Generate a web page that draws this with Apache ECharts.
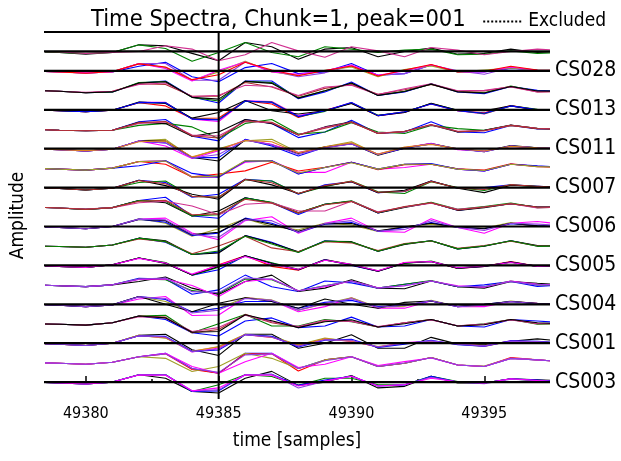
<!DOCTYPE html>
<html><head><meta charset="utf-8">
<script src="https://cdn.jsdelivr.net/npm/echarts@6/dist/echarts.min.js"></script>
<style>html,body{margin:0;padding:0;background:#fff}#c{width:621px;height:461px}</style>
</head><body><div id="c"></div>
<script>
// ---------- DATA ----------
const times = [49378,49379,49380,49381,49382,49383,49384,49385,49386,49387,49388,49389,49390,49391,49392,49393,49394,49395,49396,49397,49398];
const xTickLabels = [49380,49385,49390,49395];
const xMinorTicks = [49382.5,49387.5,49392.5];
const markerTime = 49385;
const stationNames = ['CS003','CS001','CS004','CS005','CS006','CS007','CS011','CS013','CS028'];
const titleText = 'Time Spectra, Chunk=1, peak=001';
const legendName = 'Excluded';

// amplitude traces per row (row 0 = bottom), in units of row spacing
const g00 = [
 [0,-0.05,-0.1,0,0.38,0.2,-0.48,-0.56,0.2,0.55,-0.17,0,0.34,-0.3,-0.22,0.3,-0.05,-0.05,0.17,0.12,0.05],
 [0,-0.05,-0.1,0,0.38,0.38,-0.48,-0.14,0.38,0.29,-0.17,0.2,0.2,-0.14,-0.14,0.3,0.03,-0.05,0.17,0.05,0],
 [0,-0.05,-0.1,0,0.38,0.38,-0.48,-0.45,0.38,0.4,-0.17,0.1,0.3,-0.2,-0.15,0.3,0,-0.05,0.17,0.1,0.03],
 [0,-0.05,-0.1,0,0.38,0.38,-0.45,-0.4,0.38,0.4,-0.3,0.05,0.3,-0.2,-0.12,0.25,0,-0.08,0.15,0.08,0],
 [0,-0.05,-0.1,0,0.36,0.35,-0.45,-0.3,0.36,0.35,-0.2,0.05,0.3,-0.2,-0.14,0.2,0.02,-0.05,0.17,0.08,0]];
const g01 = [
 [0,-0.03,-0.08,0.02,0.3,0.48,-0.3,-0.55,0.48,0.48,-0.3,0.14,0.3,-0.2,-0.03,0.26,-0.12,-0.2,0.22,0.14,0.05],
 [0,-0.03,-0.08,0.02,0.3,0.45,-0.35,-0.55,0.46,0.45,-0.43,0.14,0.3,-0.2,-0.03,0.26,-0.12,-0.2,0.26,0.14,0.05],
 [0,-0.03,-0.08,0.02,0.3,0.22,-0.46,-0.2,0.48,0.22,-0.3,0.14,0.3,-0.18,-0.03,0.26,-0.12,-0.18,0.22,0.14,0.05],
 [0,-0.03,-0.08,0.02,0.3,0.48,-0.2,-0.55,0.05,0.48,-0.25,-0.08,0.3,-0.15,0.05,0.24,-0.12,-0.2,0.22,0.14,0.05],
 [0,-0.03,-0.08,0.02,0.3,0.45,-0.3,-0.5,0.4,0.45,-0.3,0.1,0.3,-0.2,-0.02,0.25,-0.12,-0.2,0.22,0.14,0.05]];
const g02 = [
 [0,-0.05,-0.12,0,0.4,0.46,-0.34,-0.63,0.46,0.46,-0.26,0,0.43,-0.26,-0.26,0.3,-0.05,-0.08,0.1,0.22,0.1],
 [0,-0.05,-0.12,0,0.4,0.26,-0.43,-0.17,0.46,0.34,-0.08,0.26,0.08,-0.17,0,0.08,-0.05,-0.17,0.1,0.08,0],
 [0,-0.05,-0.12,0,0.38,0.3,-0.45,-0.25,0.44,0.3,-0.15,0.2,0.1,-0.2,0.03,0.1,-0.03,-0.15,0.12,0.05,0],
 [0,-0.05,-0.12,0,0.4,0.28,-0.4,-0.2,0.45,0.3,-0.1,0.22,0.12,-0.2,0,0.1,-0.05,-0.12,0.1,0.06,0],
 [0,-0.05,-0.12,0,0.38,0.35,-0.42,-0.35,0.44,0.35,-0.2,0.15,0.2,-0.22,-0.05,0.15,-0.08,-0.15,0.12,0.1,0],
 [0,-0.05,-0.12,0,0.38,0.32,-0.44,-0.3,0.44,0.32,-0.15,0.18,0.15,-0.2,0,0.12,-0.05,-0.14,0.1,0.08,0]];
const g03 = [
 [0,-0.03,-0.07,0.05,0.4,0.22,-0.46,-0.63,0.14,0.3,-0.2,-0.12,0.34,-0.17,-0.12,0.22,-0.12,-0.17,0.22,0.14,0.05],
 [0,-0.03,-0.07,0.05,0.4,0.44,-0.46,0,0.48,-0.12,-0.12,0.22,0.1,-0.17,0.05,0.22,-0.12,0,0.22,-0.03,0],
 [0,-0.03,-0.07,0.05,0.4,0.34,-0.46,-0.3,0.48,0.05,-0.18,0.14,0.14,-0.17,0.05,0.22,-0.12,-0.03,0.22,0,0],
 [0,-0.03,-0.07,0.05,0.36,0.3,-0.4,-0.2,0.44,0.1,-0.15,0.18,0.12,-0.15,0.05,0.2,-0.1,-0.02,0.2,0.02,0],
 [0,-0.03,-0.07,0.05,0.4,0.3,-0.44,-0.4,0.46,0.15,-0.2,0.1,0.2,-0.17,0,0.22,-0.12,-0.05,0.22,0.05,0]];
const g04 = [
 [0,-0.05,-0.12,-0.03,0.27,0.4,-0.58,-0.55,0.34,0.2,-0.38,-0.12,0.34,-0.2,-0.2,0.17,-0.12,-0.12,0.14,0.05,0],
 [0,-0.05,-0.12,-0.03,0.4,0.14,-0.38,-0.2,0.34,0.22,-0.3,0.03,0.34,-0.15,-0.1,0.2,-0.12,-0.05,0.17,0.03,0],
 [0,-0.05,-0.12,-0.03,0.4,0.25,-0.4,-0.2,0.14,0.14,-0.2,0.1,0.2,-0.12,-0.05,0.17,-0.12,0,0.14,0.02,0],
 [0,-0.05,-0.12,-0.03,0.4,0,-0.38,0.05,0.34,0.14,-0.2,0.27,0,-0.2,0.1,0.17,-0.1,0,0.14,0.05,0],
 [0,-0.05,-0.12,-0.03,0.38,0.3,-0.45,-0.3,0.3,0.2,-0.3,0.05,0.28,-0.15,-0.05,0.18,-0.12,-0.05,0.14,0.03,0]];
const g05 = [
 [0,-0.05,-0.09,0,0.34,0.3,-0.48,-0.26,0.5,-0.1,-0.34,0.2,0.1,-0.17,0.03,0.2,-0.1,0,0.17,-0.08,0],
 [0,-0.05,-0.09,0,0.3,0.26,-0.3,-0.45,0.3,0.26,-0.3,-0.05,0.2,-0.17,0.03,0.22,-0.1,-0.1,0.2,0,0],
 [0,-0.05,-0.09,0,0.17,0.4,-0.17,-0.5,0.17,0.5,-0.34,-0.17,0.26,-0.17,-0.2,0.2,-0.1,-0.17,0.17,0.08,0],
 [0,-0.05,-0.09,0,0.28,0.3,-0.03,-0.6,0.17,0.3,-0.3,-0.1,0.2,-0.15,-0.05,0.2,-0.05,-0.12,0.2,0.03,0],
 [0,-0.05,-0.09,0,0.3,0.35,-0.35,-0.4,0.35,0.3,-0.32,-0.05,0.2,-0.17,-0.05,0.2,-0.08,-0.1,0.17,0,0]];
const g06 = [
 [0,-0.05,-0.1,0.03,0.38,0.12,-0.5,0.03,0.5,-0.05,-0.25,0.3,0.03,-0.3,0.15,0.2,-0.16,-0.05,0.2,-0.05,0],
 [0,-0.05,-0.1,0.03,0.38,0.12,-0.5,-0.22,0.5,0.12,-0.22,0.3,0,-0.3,0.12,0.2,-0.14,-0.05,0.17,-0.05,0],
 [0,-0.05,-0.1,0.03,0.38,0.15,-0.5,-0.1,0.48,0.14,-0.2,0.28,0.05,-0.28,0.1,0.22,-0.14,-0.02,0.15,-0.05,0],
 [0,-0.05,-0.1,0.03,0.38,0.1,-0.48,-0.05,0.5,0.1,-0.22,0.28,0.02,-0.3,0.12,0.2,-0.15,-0.05,0.17,-0.05,0],
 [0,-0.05,-0.1,0.03,0.36,0.12,-0.45,0,0.46,0.05,-0.2,0.26,0.05,-0.28,0.15,0.2,-0.12,-0.03,0.15,-0.05,0]];
const g07 = [
 [0,-0.03,-0.07,0.05,0.4,0.19,-0.44,-0.32,0.53,0.19,-0.32,0.27,0.19,-0.27,0.1,0.27,-0.15,0,0.27,0,0],
 [0,-0.03,-0.07,0.05,0.4,0.27,-0.44,-0.36,0.53,0.15,-0.3,0.24,0.22,-0.27,0.08,0.27,-0.15,-0.02,0.27,0.02,0],
 [0,-0.03,-0.07,0.05,0.36,0.22,-0.4,0,0.5,-0.1,-0.3,0.22,0.16,-0.24,0.12,0.25,-0.12,0.02,0.24,0,0],
 [0,-0.03,-0.07,0.05,0.4,0.22,-0.44,-0.26,0.5,0.1,-0.34,0.25,0.2,-0.27,0.1,0.27,-0.15,0,0.27,-0.02,0]];
const g08 = [
 [0,-0.05,-0.12,0,0.38,0.43,-0.34,-0.68,0.3,0.5,-0.35,0.17,0.43,-0.25,-0.3,0.4,-0.05,-0.35,0.17,0.26,0.1],
 [0,-0.05,-0.12,0,0.4,0.17,-0.5,-0.12,0.4,0,-0.17,0.17,0.08,-0.25,0,0.12,-0.05,-0.08,0.2,0,0],
 [0,-0.05,-0.12,0,0.38,0.22,-0.46,-0.34,0.43,0.17,-0.3,0.12,0.2,-0.25,-0.05,0.2,-0.05,-0.1,0.14,0.05,0],
 [0,-0.05,-0.12,0,0.36,0.3,-0.42,-0.3,0.4,0.1,-0.25,0.14,0.15,-0.22,-0.03,0.17,-0.03,-0.12,0.17,0.03,0],
 [0,-0.05,-0.12,0,0.38,0.34,-0.4,-0.55,0.35,0.3,-0.3,0.15,0.3,-0.24,-0.15,0.3,-0.05,-0.2,0.17,0.12,0.05]];
const g09 = [
 [0,-0.05,-0.12,-0.03,0.34,0.5,-0.46,-0.58,0.48,0.22,-0.38,0.14,0.3,-0.3,0,0.22,-0.17,0,0.17,0,0],
 [0,-0.05,-0.12,-0.03,0.34,0.22,-0.46,-0.2,0.48,0.22,-0.3,0.14,0.3,-0.3,-0.02,0.22,-0.17,-0.03,0.17,0,0],
 [0,-0.05,-0.12,-0.03,0.34,0.3,-0.46,-0.4,0.46,0.25,-0.3,0.14,0.32,-0.28,0,0.24,-0.12,0.02,0.2,-0.03,0],
 [0,-0.05,-0.1,-0.03,0.22,0.3,0.05,-0.4,0.14,0.22,-0.2,-0.2,0.3,-0.25,0,0.2,-0.12,0,0.17,-0.05,0],
 [0,-0.05,-0.12,-0.03,0.3,0.35,-0.4,-0.35,0.4,0.2,-0.3,0.12,0.28,-0.28,0.03,0.22,-0.15,0,0.17,0,0]];
const g10 = [
 [0,-0.05,-0.12,-0.03,0.38,0.26,-0.5,-0.34,0.43,0.34,-0.34,0.14,0.3,-0.26,-0.2,0.34,-0.03,0,0.14,0.07,0],
 [0,-0.05,-0.12,-0.03,0.26,0.34,-0.46,-0.5,0.4,0.34,-0.32,0.05,0.34,-0.22,-0.3,0.3,0,-0.15,0.14,0.05,0],
 [0,-0.05,-0.12,-0.03,0.38,0.1,-0.34,-0.6,0.43,0.14,-0.3,0.08,0.3,-0.26,-0.14,0.34,-0.03,-0.26,0.12,0.07,0],
 [0,-0.05,-0.12,-0.03,0.36,0.2,-0.45,-0.5,0.42,0.25,-0.3,0.1,0.32,-0.24,-0.2,0.32,-0.02,-0.1,0.15,0.06,0]];
const g11 = [
 [0,-0.05,-0.1,0,0.34,0.38,-0.44,-0.44,0.3,0.38,-0.22,-0.22,0.3,-0.05,0.03,0.2,-0.05,-0.14,0.2,0.1,0.05],
 [0,-0.05,-0.1,0,0.34,0.38,-0.48,-0.48,0.38,0.38,-0.3,0.03,0.3,-0.05,0.2,0.2,-0.05,-0.14,0.2,0.1,0.05],
 [0,-0.05,-0.1,0,0.34,0.2,-0.45,-0.3,-0.14,0.3,-0.15,0.05,0.3,-0.08,0.18,0.2,-0.03,-0.1,0.22,0.08,0.05],
 [0,-0.05,-0.1,0,0.12,0.38,-0.27,-0.45,0.35,0.38,-0.3,0.03,0.3,-0.05,0.2,0.24,-0.05,-0.14,0.2,0.12,0.05],
 [0,-0.05,-0.1,0,0.34,0.36,-0.46,-0.4,0.38,0.36,-0.25,0.03,0.28,-0.05,0.2,0.2,-0.05,-0.12,0.2,0.08,0.05]];
const g12 = [
 [0,-0.05,-0.12,-0.03,0.4,0.48,-0.46,0,0.4,0.48,-0.2,0.1,0.36,-0.3,0.05,0.26,0,-0.15,0.14,0.05,0],
 [0,-0.05,-0.12,-0.03,0.4,0.4,-0.45,-0.63,0.46,0.2,-0.25,0.08,0.26,-0.34,0.03,0.26,-0.03,-0.13,0.16,0.05,0],
 [0,-0.05,-0.12,-0.03,0.4,0.14,-0.5,-0.1,0.45,0.22,-0.2,0.05,0.26,-0.28,0.05,0.28,-0.05,-0.12,0.12,0.03,0],
 [0,-0.05,-0.12,-0.03,0.38,0.3,-0.46,-0.46,0.48,0.14,-0.38,0.08,0.26,-0.3,0.03,0.24,0,-0.15,0.14,0.05,0],
 [0,-0.05,-0.12,-0.03,0.4,0.3,-0.48,-0.3,0.44,0.2,-0.3,0.05,0.24,-0.3,0.05,0.25,-0.03,-0.15,0.14,0.03,0],
 [0,-0.05,-0.1,-0.03,0.36,0.4,-0.42,-0.05,0.42,0.36,-0.22,0.1,0.3,-0.28,0.08,0.22,0,-0.12,0.12,0.05,0]];
const g13 = [
 [0,-0.05,-0.08,-0.05,0.38,0.5,-0.36,-0.6,0.5,0.3,-0.43,-0.14,0.46,-0.22,-0.14,0.38,-0.14,-0.18,0.2,0.02,0],
 [0,-0.05,-0.08,-0.05,0.2,0.3,0.12,-0.48,0.3,0.5,-0.25,-0.14,0.34,-0.14,-0.22,0.2,0.03,-0.05,0.2,0.05,0],
 [0,-0.05,-0.08,-0.05,0.36,0.29,-0.36,-0.14,0.5,0.29,-0.3,0.12,0.38,-0.22,-0.1,0.22,-0.14,-0.05,0.22,0.03,0],
 [0,-0.05,-0.08,-0.05,0.3,0.38,-0.3,-0.35,0.4,0.34,-0.28,0.1,0.36,-0.2,-0.12,0.22,-0.1,-0.08,0.2,0.05,0],
 [0,-0.05,-0.08,-0.05,0.34,0.4,-0.34,-0.45,0.44,0.36,-0.3,0.05,0.36,-0.22,-0.12,0.24,-0.12,-0.08,0.2,0.03,0]];
const g14 = [
 [0,-0.05,-0.1,-0.02,0.38,0.38,-0.48,-0.6,0.46,0.43,-0.3,-0.05,0.38,-0.3,-0.14,0.32,-0.05,-0.22,0.2,0,0],
 [0,-0.05,-0.1,-0.02,0.36,0.2,-0.45,-0.42,0.46,0.3,-0.4,-0.02,0.34,-0.3,-0.1,0.3,-0.05,-0.15,0.22,0,0],
 [0,-0.05,-0.1,-0.02,0.38,0.36,-0.46,-0.5,0.44,0.4,-0.36,-0.08,0.36,-0.28,-0.12,0.32,-0.03,-0.2,0.2,0.02,0],
 [0,-0.05,-0.1,-0.02,0.4,0.32,-0.43,-0.14,0.48,-0.05,-0.22,-0.05,0.32,-0.3,-0.14,0.34,-0.02,-0.05,0.2,-0.02,0],
 [0,-0.05,-0.1,-0.02,0.38,0.36,-0.48,-0.52,0.45,0.38,-0.35,-0.05,0.38,-0.3,-0.1,0.3,-0.05,-0.18,0.2,0,0]];
const g15 = [
 [0,-0.05,-0.12,-0.08,0.38,0.48,-0.34,-0.65,0.48,0.48,-0.43,-0.08,0.43,-0.26,-0.08,0.34,-0.08,-0.17,0.2,0,-0.05],
 [0,-0.05,-0.12,-0.08,0.4,0.45,-0.36,-0.55,0.46,0.4,-0.38,-0.02,0.35,-0.25,-0.05,0.32,-0.05,-0.12,0.22,-0.05,-0.05],
 [0,-0.05,-0.12,-0.05,0.34,0.3,-0.3,-0.3,0.4,0.17,-0.3,0.1,0.3,-0.2,0.03,0.3,-0.05,-0.03,0.2,-0.08,-0.05],
 [0,-0.05,-0.1,-0.05,0.3,0.38,-0.32,-0.25,0.26,0.2,-0.26,0.17,0.26,-0.22,0.08,0.34,-0.02,0,0.18,-0.08,-0.05],
 [0,-0.05,-0.12,-0.08,0.38,0.44,-0.36,-0.45,0.46,0.36,-0.4,-0.02,0.38,-0.26,-0.06,0.32,-0.08,-0.14,0.2,-0.03,-0.05]];
const g16 = [
 [0,-0.05,-0.1,-0.05,0.24,0.44,-0.3,-0.56,0.17,0.38,-0.14,-0.05,0.38,-0.22,-0.14,0.3,-0.05,-0.05,0.12,0.05,0],
 [0,-0.05,-0.1,-0.05,0.38,0.38,-0.48,-0.48,0.46,0,-0.3,-0.1,0.26,-0.22,-0.14,0.3,0,-0.17,0.17,0,0],
 [0,-0.05,-0.1,-0.05,0.38,0.17,-0.48,-0.05,0.5,-0.05,-0.22,0.03,0.2,-0.3,0.07,0.26,-0.05,0.05,0.15,0.05,0],
 [0,-0.05,-0.1,-0.05,0.38,0.12,-0.52,0.03,0.46,-0.05,-0.17,0,0.3,-0.22,0,0.32,-0.03,-0.05,0.2,0.03,0],
 [0,-0.05,-0.12,-0.03,0.36,0.2,-0.45,-0.2,0.44,0.05,-0.25,0.02,0.25,-0.26,0.05,0.33,-0.05,-0.02,0.24,0.05,0]];
const g17 = [
 [0,-0.05,-0.14,-0.05,0.34,0.29,-0.1,-0.48,0.46,0.24,-0.4,0.12,0.2,-0.27,0,0.17,-0.14,-0.1,0.12,-0.05,0],
 [0,-0.05,-0.1,-0.05,0.34,0.15,-0.5,-0.05,0.46,-0.05,-0.27,0.24,0.12,-0.05,0.07,0.12,-0.17,-0.14,0.03,-0.1,-0.05],
 [0,-0.03,-0.1,-0.05,0,0.29,0.12,-0.48,-0.17,0.46,0.03,-0.3,0.24,0.03,-0.27,0.2,0.07,-0.17,0,0.12,0.05]];
const rowTraces = [g00,g01,g02,g03,g04,g05,g06,g07,g08,g09,g10,g11,g12,g13,g14,g15,g16,g17];

// ---------- STYLE ----------
const palette = {black:'#000000',green:'#008000',blue:'#0000ff',red:'#ff0000',magenta:'#ff00ff',
  olive:'#a0a028',purple:'#9040e0',brown:'#b03030',pink:'#d03090',orange:'#e08020'};
const rowColors = [
 ['black','green','blue','purple','magenta'],
 ['blue','red','olive','magenta','purple'],
 ['black','olive','magenta','orange','blue','purple'],
 ['blue','green','brown','pink','black'],
 ['magenta','olive','blue','black','purple'],
 ['blue','green','black','magenta','purple'],
 ['red','blue','green','black','magenta'],
 ['blue','black','brown','green'],
 ['magenta','olive','blue','black','purple'],
 ['blue','black','green','pink','brown'],
 ['blue','green','black','brown'],
 ['magenta','purple','red','blue','olive'],
 ['olive','black','magenta','blue','purple','orange'],
 ['blue','green','black','pink','brown'],
 ['magenta','red','green','black','blue'],
 ['blue','green','brown','pink','black'],
 ['blue','purple','olive','magenta','red'],
 ['black','green','pink']];
const baselineRows = [0,2,4,6,8,10,12,14,16,17,18];
const FONT = 'DejaVu Sans Condensed, DejaVu Sans, sans-serif';
const yMin = -0.87, yMax = 18;

const series = [];
rowTraces.forEach((traces, r) => {
  traces.forEach((amp, k) => {
    series.push({type:'line', silent:true, symbol:'none', clip:true, z:2,
      lineStyle:{width:1.1, color:palette[rowColors[r][k]]},
      data: times.map((t,i)=>[t, r + amp[i]])});
  });
});
baselineRows.forEach(r => {
  series.push({type:'line', silent:true, symbol:'none', clip:true, z:3,
    lineStyle:{width:2.2, color:'#000'},
    data:[[times[0], r],[times[times.length-1], r]]});
});
series.push({type:'line', silent:true, symbol:'none', clip:true, z:4,
  lineStyle:{width:2, color:'#000'}, data:[[markerTime,yMin],[markerTime,yMax]]});
series.push({type:'line', name:legendName, symbol:'none', showSymbol:false, data:[],
  lineStyle:{width:1, color:'#000', type:'dotted'}, itemStyle:{color:'#000'}});

const chart = echarts.init(document.getElementById('c'), null, {renderer:'canvas'});
chart.setOption({
  animation:false,
  backgroundColor:'#fff',
  title:{text:titleText, left:86, top:3, textStyle:{fontFamily:FONT, fontSize:23.5, fontWeight:'normal', color:'#000'}},
  legend:{data:[{name:legendName, itemStyle:{opacity:0}}], right:10, top:7, itemWidth:40, itemHeight:10, itemGap:8,
    textStyle:{fontFamily:FONT, fontSize:19, color:'#000'}},
  grid:{left:46, right:73, top:32, bottom:62, containLabel:false},
  xAxis:[{type:'value', min:49378.5, max:49397.4, position:'bottom',
    name:'time [samples]', nameLocation:'middle', nameGap:33,
    nameTextStyle:{fontFamily:FONT, fontSize:19, color:'#000'},
    axisLine:{show:true, lineStyle:{color:'#000', width:2}},
    axisTick:{show:true, inside:true, length:6, customValues:xTickLabels, lineStyle:{color:'#000', width:1.5}},
    axisLabel:{customValues:xTickLabels, formatter:v=>String(v), fontFamily:FONT, fontSize:16, color:'#000', margin:7},
    splitLine:{show:false}},
   {type:'value', min:49378.5, max:49397.4, position:'bottom', offset:0,
    axisLine:{show:false},
    axisTick:{show:true, inside:true, length:3, customValues:xMinorTicks, lineStyle:{color:'#000', width:1.5}},
    axisLabel:{show:false}, splitLine:{show:false}}],
  yAxis:[{type:'value', min:yMin, max:yMax, position:'left',
    name:'Amplitude', nameLocation:'middle', nameGap:18, nameRotate:90,
    nameTextStyle:{fontFamily:FONT, fontSize:19, color:'#000'},
    axisLine:{show:false}, axisTick:{show:false}, axisLabel:{show:false}, splitLine:{show:false}},
   {type:'value', min:yMin, max:yMax, position:'right',
    axisLine:{show:false}, axisTick:{show:false}, splitLine:{show:false},
    axisLabel:{customValues:stationNames.map((_,i)=>i*2), formatter:v=>stationNames[Math.round(v/2)],
      fontFamily:FONT, fontSize:21, color:'#000', margin:7}}],
  series: series
});
</script></body></html>
